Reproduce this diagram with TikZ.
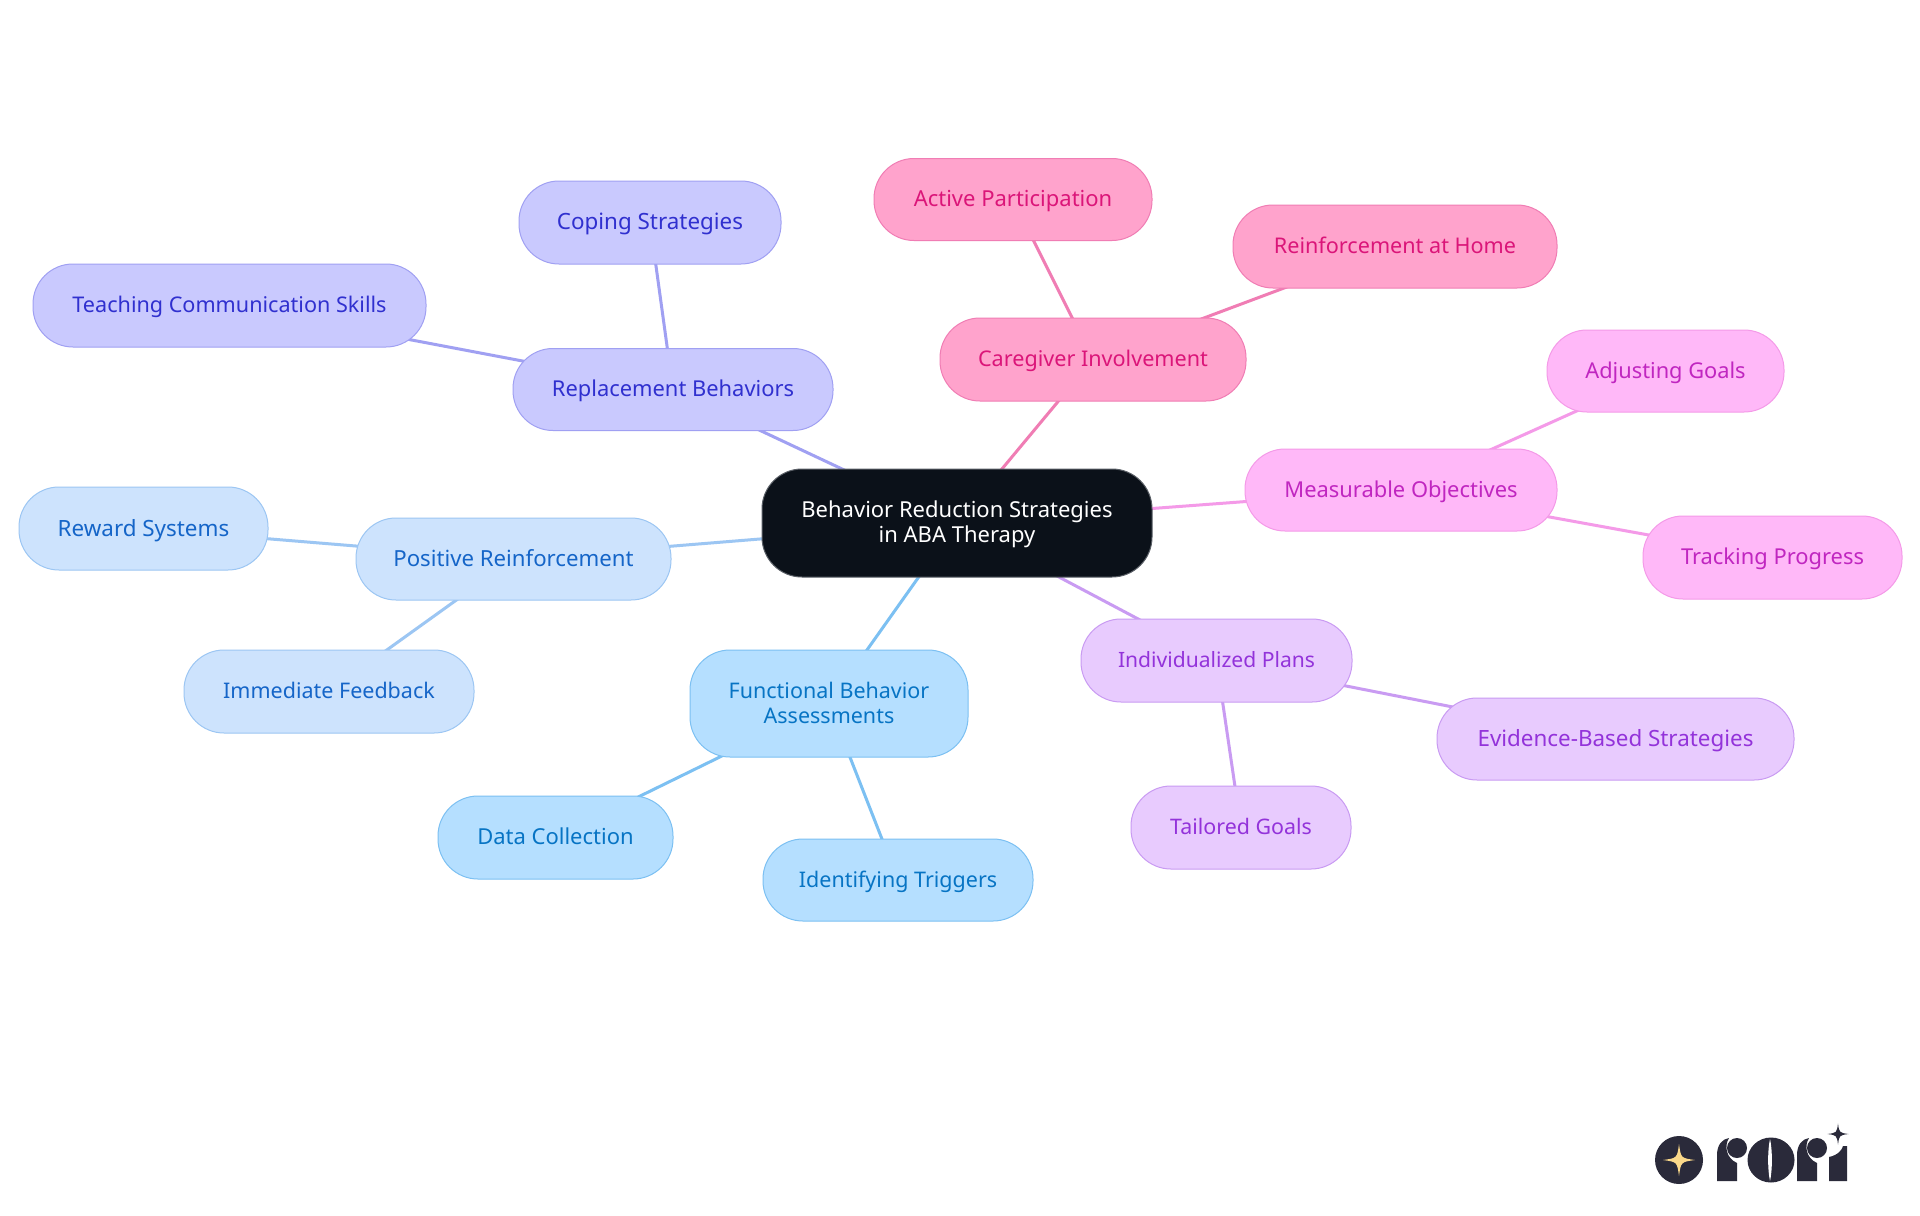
\documentclass[tikz,border=0pt]{standalone}
\usepackage{fontspec}
\setmainfont{Noto Sans}[Scale=1.0]
\pgfdeclarelayer{bg}
\pgfsetlayers{bg,main}
\definecolor{rootfill}{HTML}{0B1119}
\definecolor{rootline}{HTML}{5A5F66}
\definecolor{indfill}{HTML}{C9C9FE}
\definecolor{indline}{HTML}{A0A0F2}
\definecolor{indtext}{HTML}{3030CF}
\definecolor{blufill}{HTML}{CDE3FD}
\definecolor{bluline}{HTML}{9CC6F3}
\definecolor{blutext}{HTML}{1565C8}
\definecolor{skyfill}{HTML}{B5DFFF}
\definecolor{skyline}{HTML}{7CC0F2}
\definecolor{skytext}{HTML}{0774C4}
\definecolor{purfill}{HTML}{E8CBFE}
\definecolor{purline}{HTML}{C99BF2}
\definecolor{purtext}{HTML}{9333DA}
\definecolor{magfill}{HTML}{FFB8F8}
\definecolor{magline}{HTML}{F49AE8}
\definecolor{magtext}{HTML}{C026C0}
\definecolor{pnkfill}{HTML}{FFA3CC}
\definecolor{pnkline}{HTML}{F07DB4}
\definecolor{pnktext}{HTML}{DB1579}
\definecolor{logodark}{HTML}{2A2A3A}
\definecolor{logogold}{HTML}{FBD98A}
\tikzset{
  x=0.5pt,y=-0.5pt,
  fs/.style={font=\fontsize{#1}{12.4}\selectfont},
  pill/.style={rounded corners=20pt,line width=0.5pt,inner sep=0pt,align=center,
    fs=10.8,text depth=1pt},
  sz/.style 2 args={minimum width=#1*0.5pt,minimum height=#2*0.5pt},
  rootbox/.style={pill,fill=rootfill,draw=rootline,text=white},
  indbox/.style={pill,fill=indfill,draw=indline,text=indtext},
  blubox/.style={pill,fill=blufill,draw=bluline,text=blutext},
  skybox/.style={pill,fill=skyfill,draw=skyline,text=skytext},
  purbox/.style={pill,fill=purfill,draw=purline,text=purtext},
  magbox/.style={pill,fill=magfill,draw=magline,text=magtext},
  pnkbox/.style={pill,fill=pnkfill,draw=pnkline,text=pnktext},
  link/.style={line width=1.5pt}
}
\newcommand{\logostar}[4]{% x y r colour
  \fill[#4] (#1,#2-#3) .. controls (#1+0.12*#3,#2-0.12*#3) .. (#1+#3,#2)
    .. controls (#1+0.12*#3,#2+0.12*#3) .. (#1,#2+#3)
    .. controls (#1-0.12*#3,#2+0.12*#3) .. (#1-#3,#2)
    .. controls (#1-0.12*#3,#2-0.12*#3) .. cycle;}
\begin{document}
\begin{tikzpicture}
\useasboundingbox (0,0) rectangle (1920,1215);
\node[rootbox,fs=11,sz={390}{108}] (root) at (957,523) {Behavior Reduction Strategies\\in ABA Therapy};
\node[indbox,fs=10.95,sz={320}{82}] (rep) at (673,389.5) {Replacement Behaviors};
\node[indbox,fs=11.2,sz={262}{83}] (cop) at (650,222.5) {Coping Strategies};
\node[indbox,sz={393}{83}] (tea) at (229.5,305.5) {Teaching Communication Skills};
\node[blubox,fs=11.1,sz={315}{82}] (pos) at (513.5,559) {Positive Reinforcement};
\node[blubox,fs=11.2,sz={249}{83}] (rew) at (143.5,528.5) {Reward Systems};
\node[blubox,fs=10.75,sz={290}{83}] (imm) at (329,691.5) {Immediate Feedback};
\node[skybox,fs=10.75,sz={278}{107}] (fba) at (829,703.5) {Functional Behavior\\Assessments};
\node[skybox,fs=11,sz={235}{83}] (dat) at (555.5,837.5) {Data Collection};
\node[skybox,fs=10.75,sz={270}{82}] (ide) at (898,880) {Identifying Triggers};
\node[purbox,fs=10.55,sz={271}{83}] (ind) at (1216.5,660.5) {Individualized Plans};
\node[purbox,fs=10.7,sz={220}{83}] (tai) at (1241,827.5) {Tailored Goals};
\node[purbox,fs=11.2,sz={357}{82}] (evi) at (1615.5,739) {Evidence-Based Strategies};
\node[magbox,fs=10.95,sz={312}{82}] (mea) at (1401,490) {Measurable Objectives};
\node[magbox,fs=10.9,sz={237}{82}] (adj) at (1665.5,371) {Adjusting Goals};
\node[magbox,fs=10.95,sz={259}{83}] (tra) at (1772.5,557.5) {Tracking Progress};
\node[pnkbox,sz={306}{83}] (car) at (1093,359.5) {Caregiver Involvement};
\node[pnkbox,fs=11,sz={278}{82}] (act) at (1013,199.5) {Active Participation};
\node[pnkbox,sz={324}{83}] (rei) at (1395,246.5) {Reinforcement at Home};
\begin{pgfonlayer}{bg}
\fill[white] (0,0) rectangle (1920,1215);
\draw[link,draw=indline] (root.center) -- (rep.center);
\draw[link,draw=indline] (rep.center) -- (cop.center);
\draw[link,draw=indline] (rep.center) -- (tea.center);
\draw[link,draw=bluline] (root.center) -- (pos.center);
\draw[link,draw=bluline] (pos.center) -- (rew.center);
\draw[link,draw=bluline] (pos.center) -- (imm.center);
\draw[link,draw=skyline] (root.center) -- (fba.center);
\draw[link,draw=skyline] (fba.center) -- (dat.center);
\draw[link,draw=skyline] (fba.center) -- (ide.center);
\draw[link,draw=purline] (root.center) -- (ind.center);
\draw[link,draw=purline] (ind.center) -- (tai.center);
\draw[link,draw=purline] (ind.center) -- (evi.center);
\draw[link,draw=magline] (root.center) -- (mea.center);
\draw[link,draw=magline] (mea.center) -- (adj.center);
\draw[link,draw=magline] (mea.center) -- (tra.center);
\draw[link,draw=pnkline] (root.center) -- (car.center);
\draw[link,draw=pnkline] (car.center) -- (act.center);
\draw[link,draw=pnkline] (car.center) -- (rei.center);
\end{pgfonlayer}
% logo
\fill[logodark] (1679,1160) circle (24);
\logostar{1679}{1160}{16}{logogold}
% r
\fill[logodark] (1717,1181) -- (1717,1155) .. controls (1717,1145) and (1722,1139) .. (1729,1138)
  .. controls (1724,1146) and (1726,1158) .. (1737,1163) -- (1737,1181) -- cycle;
\fill[logodark] (1737,1148) circle (10);
% o
\fill[logodark] (1771,1160) ellipse (23.5 and 22.5);
\fill[white] (1770,1139) .. controls (1767.5,1150) and (1767.5,1170) .. (1770,1181)
  .. controls (1772.5,1170) and (1772.5,1150) .. cycle;
% r
\fill[logodark] (1797,1181) -- (1797,1155) .. controls (1797,1145) and (1802,1139) .. (1809,1138)
  .. controls (1804,1146) and (1806,1158) .. (1817,1163) -- (1817,1181) -- cycle;
\fill[logodark] (1817,1148) circle (10);
% i
\fill[logodark] (1829,1181) -- (1829,1157) .. controls (1838,1155) and (1842,1150) .. (1843,1146)
  -- (1847,1146) -- (1847,1181) -- cycle;
\logostar{1838}{1134}{10.5}{logodark}
\end{tikzpicture}
\end{document}
